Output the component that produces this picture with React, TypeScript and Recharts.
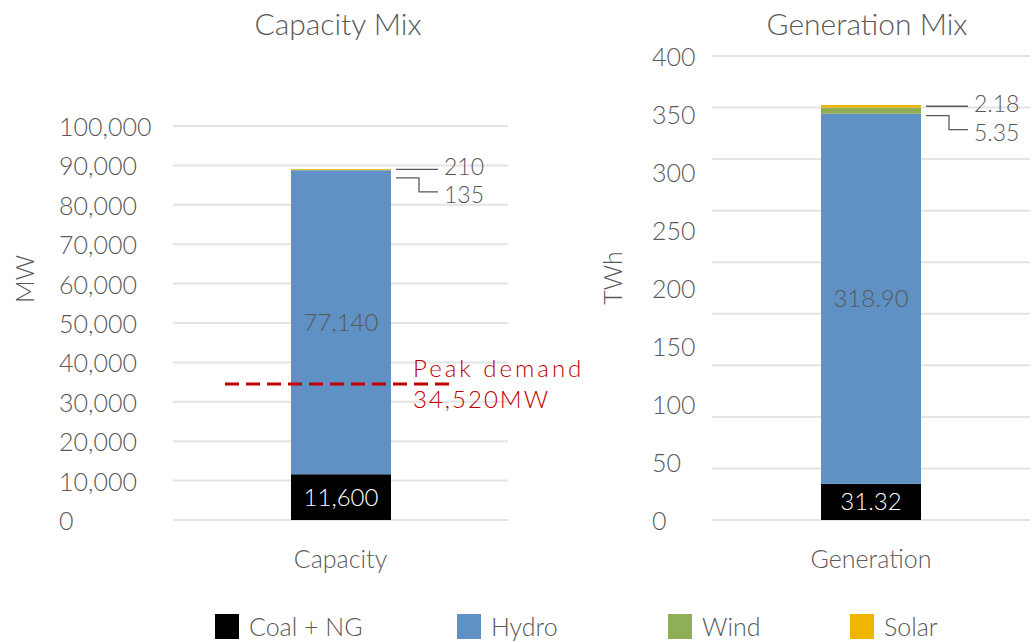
import React from "react";
import {
  BarChart,
  Bar,
  XAxis,
  YAxis,
  CartesianGrid,
  ReferenceLine,
  LabelList,
} from "recharts";

// series, bottom to top of each stack
const SOURCES = ["Coal + NG", "Hydro", "Wind", "Solar"];
const SOURCE_KEYS = ["coal", "hydro", "wind", "solar"];
const SOURCE_COLORS = ["#000000", "#5f91c4", "#8fae56", "#eeb600"];

const CAPACITY_MW = [11600, 77140, 135, 210];
const GENERATION_TWH = [31.32, 318.9, 5.35, 2.18];
const PEAK_DEMAND_MW = 34520;

const CAPACITY_TICKS = [0, 10000, 20000, 30000, 40000, 50000, 60000, 70000, 80000, 90000, 100000];
const GENERATION_TICKS = [0, 50, 100, 150, 200, 250, 300, 350, 400];
// the generation panel's gridlines run on a finer 0–450 ladder than its labels
const GENERATION_GRID = [0, 50, 100, 150, 200, 250, 300, 350, 400, 450];
const GENERATION_GRID_MAX = 450;

const TEXT = "#595959";
const GRID = "#e4e4e4";
const PEAK = "#c00000";
const PEAK_TEXT = "#c00000";
const FONT = "Lato, 'Open Sans', sans-serif";

const LEGEND_X = [215, 457, 668, 850];

const toRow = (name: string, values: number[]) => {
  const row: Record<string, string | number> = { name };
  SOURCE_KEYS.forEach((k, i) => (row[k] = values[i]));
  return [row];
};

const capacityData = toRow("Capacity", CAPACITY_MW);
const generationData = toRow("Generation", GENERATION_TWH);

const fmtMW = (v: unknown) => Number(v).toLocaleString("en-US");
const fmtTWh = (v: unknown) => Number(v).toFixed(2);

const yTick = (tx: number, fmt: (v: unknown) => string) => (props: any) => (
  <text
    x={tx}
    y={props.y}
    textAnchor="start"
    dominantBaseline="central"
    fontSize={25}
    fontWeight={300}
    fill={TEXT}
  >
    {fmt(props.payload.value)}
  </text>
);

const xTick = (props: any) => (
  <text
    x={props.x}
    y={Number(props.y) + 38}
    textAnchor="middle"
    dominantBaseline="central"
    fontSize={25}
    fontWeight={300}
    fill={TEXT}
  >
    {props.payload.value}
  </text>
);

const axisTitle = (tx: number, ty: number, text: string) => () => (
  <text
    x={tx}
    y={ty}
    transform={`rotate(-90, ${tx}, ${ty})`}
    textAnchor="middle"
    dominantBaseline="central"
    fontSize={25}
    fontWeight={300}
    fill={TEXT}
  >
    {text}
  </text>
);

// small segments get their value outside the bar with a leader line
const leader = (kind: "top" | "elbow", fmt: (v: unknown) => string) => (props: any) => {
  const right = Number(props.x) + Number(props.width);
  const y = Number(props.y);
  const h = Math.abs(Number(props.height));
  const x0 = right + 5;
  const x1 = x0 + 42;
  if (kind === "top") {
    const ly = y + Math.min(h / 2, 4);
    return (
      <g>
        <line x1={x0} y1={ly} x2={x1} y2={ly} stroke={TEXT} strokeWidth={1.3} />
        <text x={x1 + 6} y={ly - 3} dominantBaseline="central" fontSize={23} fontWeight={300} fill={TEXT}>
          {fmt(props.value)}
        </text>
      </g>
    );
  }
  const ly = y + Math.max(h / 2, 8);
  const xm = x0 + 23;
  return (
    <g>
      <polyline
        points={`${x0},${ly} ${xm},${ly} ${xm},${ly + 14} ${x1},${ly + 14}`}
        fill="none"
        stroke={TEXT}
        strokeWidth={1.3}
      />
      <text x={x1 + 6} y={ly + 16} dominantBaseline="central" fontSize={23} fontWeight={300} fill={TEXT}>
        {fmt(props.value)}
      </text>
    </g>
  );
};

const peakShape = (p: any) => (
  <g>
    <line
      x1={Number(p.x1) + 52}
      y1={p.y1}
      x2={Number(p.x2) - 54}
      y2={p.y2}
      stroke={PEAK}
      strokeWidth={3}
      strokeDasharray="14 7"
    />
    <text x={Number(p.x1) + 240} y={Number(p.y1) - 16} dominantBaseline="central" fontSize={24} fontWeight={300} letterSpacing={3} fill={PEAK_TEXT}>
      Peak demand
    </text>
    <text x={Number(p.x1) + 240} y={Number(p.y1) + 15} dominantBaseline="central" fontSize={24} fontWeight={300} letterSpacing={2} fill={PEAK_TEXT}>
      {fmtMW(PEAK_DEMAND_MW)}MW
    </text>
  </g>
);

const stackBars = (fmt: (v: unknown) => string) =>
  SOURCE_KEYS.map((key, i) => (
    <Bar
      key={key}
      dataKey={key}
      name={SOURCES[i]}
      stackId="mix"
      fill={SOURCE_COLORS[i]}
      barSize={100}
      isAnimationActive={false}
    >
      {i === 0 && (
        <LabelList dataKey={key} position="center" formatter={fmt} fill="#ffffff" fontSize={24} fontWeight={300} />
      )}
      {i === 1 && (
        <LabelList dataKey={key} position="center" formatter={fmt} fill={TEXT} fontSize={24} fontWeight={300} />
      )}
      {i === 2 && <LabelList dataKey={key} content={leader("elbow", fmt)} />}
      {i === 3 && <LabelList dataKey={key} content={leader("top", fmt)} />}
    </Bar>
  ));

const generationGridLines = ({ offset }: any) =>
  GENERATION_GRID.map(
    (v) => offset.top + offset.height * (1 - v / GENERATION_GRID_MAX)
  );

const titleStyle = (center: number): React.CSSProperties => ({
  position: "absolute",
  top: 8,
  left: center - 150,
  width: 300,
  textAlign: "center",
  fontSize: 30,
  fontWeight: 300,
  lineHeight: "30px",
  color: TEXT,
});

export default function App() {
  return (
    <div
      style={{
        position: "absolute",
        left: 0,
        top: 0,
        width: 1033,
        height: 642,
        background: "#ffffff",
        fontFamily: FONT,
        overflow: "hidden",
      }}
    >
      <div style={titleStyle(338)}>Capacity Mix</div>
      <div style={titleStyle(867)}>Generation Mix</div>

      <div style={{ position: "absolute", left: 0, top: 0 }}>
        <BarChart
          width={600}
          height={600}
          data={capacityData}
          margin={{ top: 126, right: 92, bottom: 0, left: 0 }}
        >
          <CartesianGrid vertical={false} stroke={GRID} strokeWidth={2} />
          <XAxis
            dataKey="name"
            axisLine={false}
            tickLine={false}
            tickSize={0}
            tickMargin={0}
            height={80}
            tick={xTick}
          />
          <YAxis
            width={173}
            domain={[0, 100000]}
            ticks={CAPACITY_TICKS}
            axisLine={false}
            tickLine={false}
            tick={yTick(59, fmtMW)}
            label={{ content: axisTitle(24, 279, "MW") }}
          />
          {stackBars(fmtMW)}
          <ReferenceLine y={PEAK_DEMAND_MW} ifOverflow="visible" shape={peakShape} />
        </BarChart>
      </div>

      <div style={{ position: "absolute", left: 590, top: 0 }}>
        <BarChart
          width={443}
          height={600}
          data={generationData}
          margin={{ top: 56, right: 3, bottom: 0, left: 0 }}
        >
          <CartesianGrid
            vertical={false}
            stroke={GRID}
            strokeWidth={2}
            horizontalCoordinatesGenerator={generationGridLines}
          />
          <XAxis
            dataKey="name"
            axisLine={false}
            tickLine={false}
            tickSize={0}
            tickMargin={0}
            height={80}
            tick={xTick}
          />
          <YAxis
            width={122}
            domain={[0, 400]}
            ticks={GENERATION_TICKS}
            axisLine={false}
            tickLine={false}
            tick={yTick(62, (v) => String(v))}
            label={{ content: axisTitle(22, 278, "TWh") }}
          />
          {stackBars(fmtTWh)}
        </BarChart>
      </div>

      {SOURCES.map((s, i) => (
        <div
          key={s}
          style={{
            position: "absolute",
            top: 614,
            left: LEGEND_X[i],
            display: "flex",
            alignItems: "flex-start",
            fontSize: 25,
            fontWeight: 300,
            lineHeight: "25px",
            color: TEXT,
            whiteSpace: "nowrap",
          }}
        >
          <span
            style={{
              display: "inline-block",
              width: 24,
              height: 25,
              background: SOURCE_COLORS[i],
              marginRight: 10,
            }}
          />
          {s}
        </div>
      ))}
    </div>
  );
}
